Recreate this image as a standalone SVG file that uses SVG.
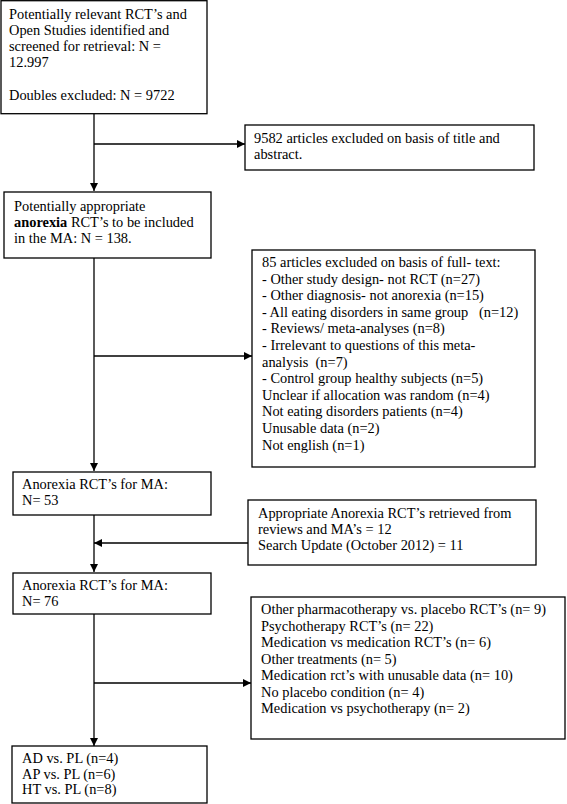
<svg xmlns="http://www.w3.org/2000/svg" width="567" height="804" viewBox="0 0 567 804">
<defs>
<marker id="ah" viewBox="0 0 10 10" refX="10" refY="5" markerWidth="8" markerHeight="8" markerUnits="userSpaceOnUse" orient="auto">
<path d="M0,0 L10,5 L0,10 z" fill="#000"/>
</marker>
<style>
.box{fill:#fff;stroke:#000;stroke-width:1.3}
.t{font-family:"Liberation Serif","Times New Roman",serif;font-size:14.4px;fill:#000;white-space:pre}
.c{fill:none;stroke:#000;stroke-width:1.3}
</style>
</defs>
<rect width="567" height="804" fill="#fff"/>
<g id="connectors">
<line class="c" x1="94" y1="114" x2="94" y2="191" marker-end="url(#ah)"/>
<line class="c" x1="94" y1="144" x2="245" y2="144" marker-end="url(#ah)"/>
<line class="c" x1="94" y1="258" x2="94" y2="471" marker-end="url(#ah)"/>
<line class="c" x1="94" y1="356" x2="252" y2="356" marker-end="url(#ah)"/>
<line class="c" x1="94" y1="515" x2="94" y2="572" marker-end="url(#ah)"/>
<line class="c" x1="248" y1="543" x2="94" y2="543" marker-end="url(#ah)"/>
<line class="c" x1="94" y1="614" x2="94" y2="746" marker-end="url(#ah)"/>
<line class="c" x1="94" y1="683" x2="251" y2="683" marker-end="url(#ah)"/>
</g>
<g id="n1">
<rect class="box" x="1" y="0.7" width="206" height="113"/>
<text class="t"><tspan x="9" y="19">Potentially relevant RCT’s and</tspan><tspan x="9" y="35">Open Studies identified and</tspan><tspan x="9" y="51">screened for retrieval: N =</tspan><tspan x="9" y="67">12.997</tspan><tspan x="9" y="100">Doubles excluded: N = 9722</tspan></text>
</g>
<g id="n2">
<rect class="box" x="245" y="125" width="289" height="45"/>
<text class="t"><tspan x="254" y="143">9582 articles excluded on basis of title and</tspan><tspan x="254" y="159">abstract.</tspan></text>
</g>
<g id="n3">
<rect class="box" x="4" y="192" width="207" height="66"/>
<text class="t"><tspan x="14" y="211">Potentially appropriate</tspan><tspan x="14" y="227"><tspan font-weight="bold">anorexia</tspan> RCT’s to be included</tspan><tspan x="14" y="243">in the MA: N = 138.</tspan></text>
</g>
<g id="n4">
<rect class="box" x="252" y="250" width="283" height="217"/>
<text class="t" xml:space="preserve"><tspan x="262" y="267">85 articles excluded on basis of full- text:</tspan><tspan x="262" y="283.6">- Other study design- not RCT (n=27)</tspan><tspan x="262" y="300.2">- Other diagnosis- not anorexia (n=15)</tspan><tspan x="262" y="316.8">- All eating disorders in same group   (n=12)</tspan><tspan x="262" y="333.4">- Reviews/ meta-analyses (n=8)</tspan><tspan x="262" y="350">- Irrelevant to questions of this meta-</tspan><tspan x="262" y="366.6">analysis  (n=7)</tspan><tspan x="262" y="383.2">- Control group healthy subjects (n=5)</tspan><tspan x="262" y="399.8">Unclear if allocation was random (n=4)</tspan><tspan x="262" y="416.4">Not eating disorders patients (n=4)</tspan><tspan x="262" y="433">Unusable data (n=2)</tspan><tspan x="262" y="449.6">Not english (n=1)</tspan></text>
</g>
<g id="n5">
<rect class="box" x="13" y="472" width="198" height="43"/>
<text class="t"><tspan x="22" y="489">Anorexia RCT’s for MA:</tspan><tspan x="22" y="505">N= 53</tspan></text>
</g>
<g id="n6">
<rect class="box" x="248" y="500" width="288" height="65"/>
<text class="t"><tspan x="258" y="518">Appropriate Anorexia RCT’s retrieved from</tspan><tspan x="258" y="534">reviews and MA’s = 12</tspan><tspan x="258" y="550">Search Update (October 2012) = 11</tspan></text>
</g>
<g id="n7">
<rect class="box" x="13" y="573" width="198" height="41"/>
<text class="t"><tspan x="22" y="590">Anorexia RCT’s for MA:</tspan><tspan x="22" y="606">N= 76</tspan></text>
</g>
<g id="n8">
<rect class="box" x="251" y="597" width="314" height="142"/>
<text class="t"><tspan x="261" y="614">Other pharmacotherapy vs. placebo RCT’s (n= 9)</tspan><tspan x="261" y="630.5">Psychotherapy RCT’s (n= 22)</tspan><tspan x="261" y="647">Medication vs medication RCT’s (n= 6)</tspan><tspan x="261" y="663.5">Other treatments (n= 5)</tspan><tspan x="261" y="680">Medication rct’s with unusable data (n= 10)</tspan><tspan x="261" y="696.5">No placebo condition (n= 4)</tspan><tspan x="261" y="713">Medication vs psychotherapy (n= 2)</tspan></text>
</g>
<g id="n9">
<rect class="box" x="12" y="746" width="195" height="57"/>
<text class="t"><tspan x="22" y="763">AD vs. PL (n=4)</tspan><tspan x="22" y="778.5">AP vs. PL (n=6)</tspan><tspan x="22" y="794">HT vs. PL (n=8)</tspan></text>
</g>
</svg>
